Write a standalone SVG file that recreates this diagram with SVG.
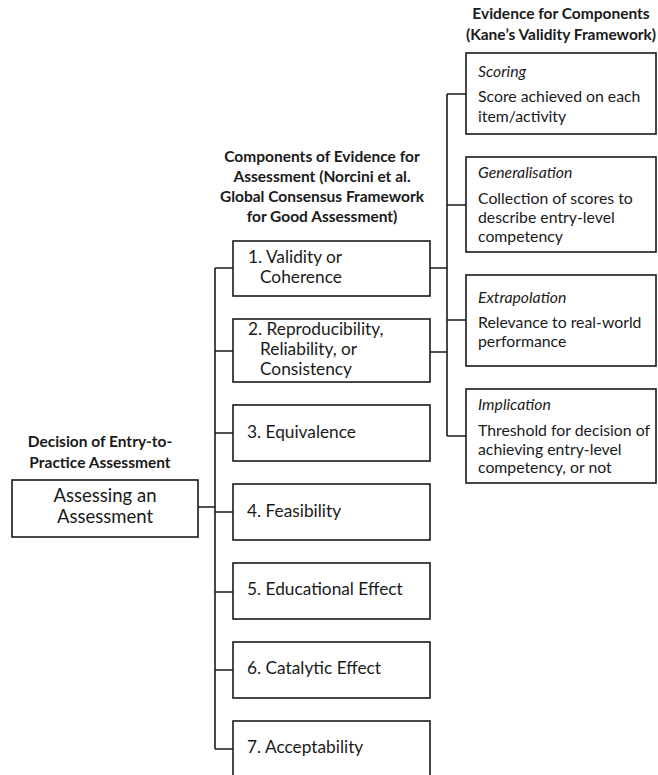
<svg xmlns="http://www.w3.org/2000/svg" width="658" height="775" viewBox="0 0 658 775">
<style>
text{font-family:Lato,"Liberation Sans",sans-serif;fill:#1a1a1a}
.h{font-weight:bold;font-size:15.5px;text-anchor:middle}
.b{font-size:15.8px}
.m{font-size:17.3px}
.i{font-style:italic}
.c{text-anchor:middle;font-size:18.5px}
rect{fill:#fff;stroke:#1a1a1a;stroke-width:1.6}
#connectors path{fill:none;stroke:#1a1a1a;stroke-width:1.6}
</style>
<rect x="0" y="0" width="658" height="775" style="stroke:none"/>
<g id="titles">
<text class="h" x="561" y="19">Evidence for Components</text>
<text class="h" x="561" y="40">(Kane’s Validity Framework)</text>
<text class="h" x="322" y="162">Components of Evidence for</text>
<text class="h" x="322" y="182">Assessment (Norcini et al.</text>
<text class="h" x="322" y="202">Global Consensus Framework</text>
<text class="h" x="322" y="222">for Good Assessment)</text>
<text class="h" x="100" y="447">Decision of Entry-to-</text>
<text class="h" x="100" y="468">Practice Assessment</text>
</g>
<g id="connectors">
<path d="M198 507H215M215 268V749M215 268H233M215 351H233M215 433H233M215 512H233M215 592H233M215 670H233M215 749H233"/>
<path d="M430 268H447M430 352H447M447 94V436M447 94H466M447 205H466M447 320H466M447 436H466"/>
</g>
<g id="root">
<rect x="12" y="480" width="186" height="57"/>
<text class="c" x="105" y="502">Assessing an</text>
<text class="c" x="105" y="523">Assessment</text>
</g>
<g id="c1">
<rect x="233" y="241" width="197" height="55"/>
<text class="m" x="248" y="263">1. Validity or</text>
<text class="m" x="260" y="283">Coherence</text>
</g>
<g id="c2">
<rect x="233" y="319" width="197" height="63"/>
<text class="m" x="248" y="335">2. Reproducibility,</text>
<text class="m" x="260" y="355">Reliability, or</text>
<text class="m" x="260" y="375">Consistency</text>
</g>
<g id="c3">
<rect x="233" y="405" width="197" height="56"/>
<text class="m" x="247" y="438">3. Equivalence</text>
</g>
<g id="c4">
<rect x="233" y="484" width="197" height="56"/>
<text class="m" x="247" y="517">4. Feasibility</text>
</g>
<g id="c5">
<rect x="233" y="563" width="197" height="56"/>
<text class="m" x="247" y="595">5. Educational Effect</text>
</g>
<g id="c6">
<rect x="233" y="642" width="197" height="56"/>
<text class="m" x="247" y="674">6. Catalytic Effect</text>
</g>
<g id="c7">
<rect x="233" y="721" width="197" height="70"/>
<text class="m" x="247" y="753">7. Acceptability</text>
</g>
<g id="scoring">
<rect x="466" y="53" width="190" height="81"/>
<text class="b i" x="478" y="77">Scoring</text>
<text class="b" x="478" y="102">Score achieved on each</text>
<text class="b" x="478" y="122">item/activity</text>
</g>
<g id="generalisation">
<rect x="466" y="157" width="190" height="95"/>
<text class="b i" x="478" y="178">Generalisation</text>
<text class="b" x="478" y="204">Collection of scores to</text>
<text class="b" x="478" y="223">describe entry-level</text>
<text class="b" x="478" y="242">competency</text>
</g>
<g id="extrapolation">
<rect x="466" y="275" width="190" height="91"/>
<text class="b i" x="478" y="303">Extrapolation</text>
<text class="b" x="478" y="328">Relevance to real-world</text>
<text class="b" x="478" y="347">performance</text>
</g>
<g id="implication">
<rect x="466" y="389" width="190" height="94"/>
<text class="b i" x="478" y="410">Implication</text>
<text class="b" x="478" y="436">Threshold for decision of</text>
<text class="b" x="478" y="455">achieving entry-level</text>
<text class="b" x="478" y="473">competency, or not</text>
</g>
</svg>
